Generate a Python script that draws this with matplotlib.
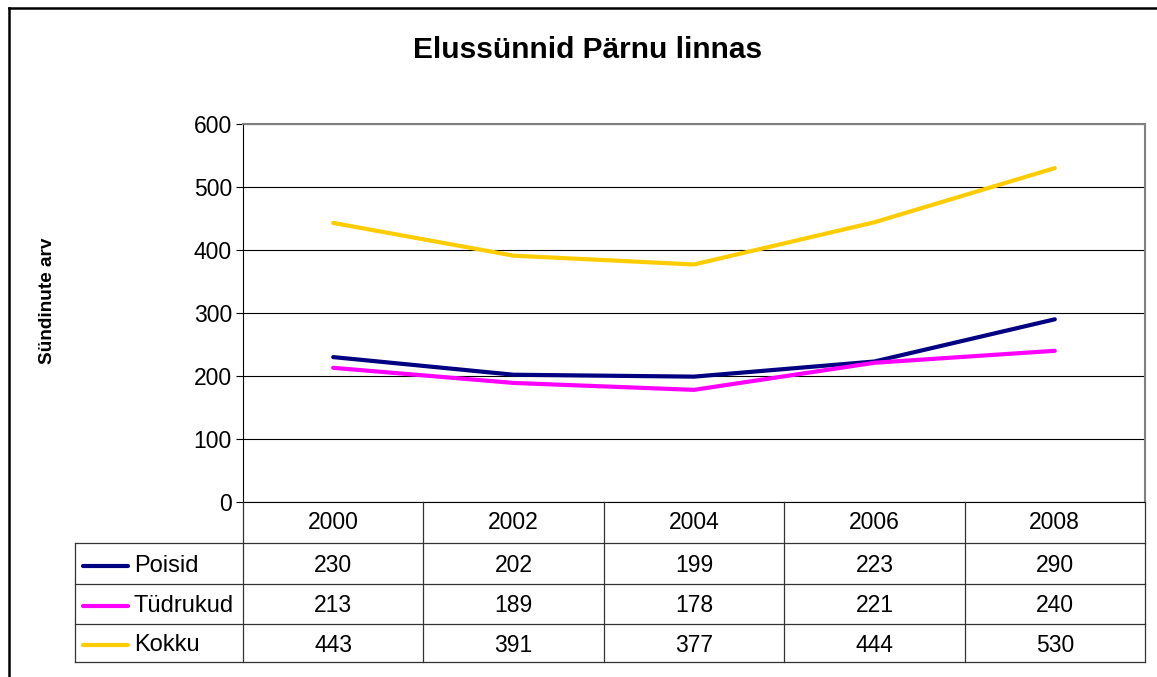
import matplotlib.pyplot as plt
from matplotlib.lines import Line2D

years = ['2000', '2002', '2004', '2006', '2008']
series_names = ['Poisid', 'Tüdrukud', 'Kokku']
poisid = [230, 202, 199, 223, 290]
tudrukud = [213, 189, 178, 221, 240]
kokku = [443, 391, 377, 444, 530]
colors = ['#000080', '#FF00FF', '#FFCC00']

plt.rcParams['font.family'] = ['Liberation Sans', 'DejaVu Sans']

W, H = 1157, 677
fig = plt.figure(figsize=(W / 100, H / 100), dpi=100)


def fx(px):
    return px / W


def fy(py):
    return 1 - py / H


left, right, top, bottom = 243, 1145, 124, 502
ax = fig.add_axes([fx(left), fy(bottom), fx(right - left), fy(top) - fy(bottom)])

x = list(range(len(years)))
all_series = [poisid, tudrukud, kokku]
for vals, c in zip(all_series, colors):
    ax.plot(x, vals, color=c, lw=3, solid_capstyle='round', zorder=3)

ax.set_xlim(-0.5, len(years) - 0.5)
ax.set_ylim(0, 600)
ax.set_yticks(range(0, 601, 100))
ax.set_xticks([])
ax.grid(axis='y', color='black', lw=0.8)
ax.tick_params(axis='y', labelsize=16.5, length=5, width=0.8, pad=3)
for s in ['top', 'right']:
    ax.spines[s].set_color('#808080')
    ax.spines[s].set_linewidth(1.5)
ax.spines['left'].set_linewidth(0.8)
ax.spines['bottom'].set_linewidth(0.8)

fig.text(fx(588), fy(50), 'Elussünnid Pärnu linnas', ha='center', va='center',
         fontsize=21.5, fontweight='bold')
fig.text(fx(48), fy(301), 'Sündinute arv', ha='center', va='center',
         rotation=90, fontsize=13.7, fontweight='bold')

# data table under the plot
col_w = (right - left) / len(years)
row_y = [502, 543, 584, 624, 662]
tab_left = 75
lc = '#333333'


def hline(y, x0, x1):
    fig.add_artist(Line2D([fx(x0), fx(x1)], [fy(y), fy(y)], color=lc, lw=0.9))


def vline(xp, y0, y1):
    fig.add_artist(Line2D([fx(xp), fx(xp)], [fy(y0), fy(y1)], color=lc, lw=0.9))


for y in row_y[1:]:
    hline(y, tab_left, right)
for i in range(len(years) + 1):
    vline(left + i * col_w, row_y[0], row_y[-1])
vline(tab_left, row_y[1], row_y[-1])

for i, yr in enumerate(years):
    fig.text(fx(left + (i + 0.5) * col_w), fy((row_y[0] + row_y[1]) / 2), yr,
             ha='center', va='center', fontsize=16.5)

for r, (name, vals, c) in enumerate(zip(series_names, all_series, colors)):
    yc = (row_y[r + 1] + row_y[r + 2]) / 2 + 2
    fig.add_artist(Line2D([fx(83), fx(128)], [fy(yc), fy(yc)], color=c, lw=3,
                          solid_capstyle='round'))
    fig.text(fx(134), fy(yc), name, ha='left', va='center', fontsize=17)
    for i, v in enumerate(vals):
        fig.text(fx(left + (i + 0.5) * col_w), fy(yc), str(v),
                 ha='center', va='center', fontsize=16.5)

# outer chart frame
fig.add_artist(Line2D([fx(9), fx(9)], [fy(8), 0], color='black', lw=1.8))
fig.add_artist(Line2D([fx(9), 1], [fy(8), fy(8)], color='black', lw=1.8))

fig.savefig('out.png', dpi=100)
